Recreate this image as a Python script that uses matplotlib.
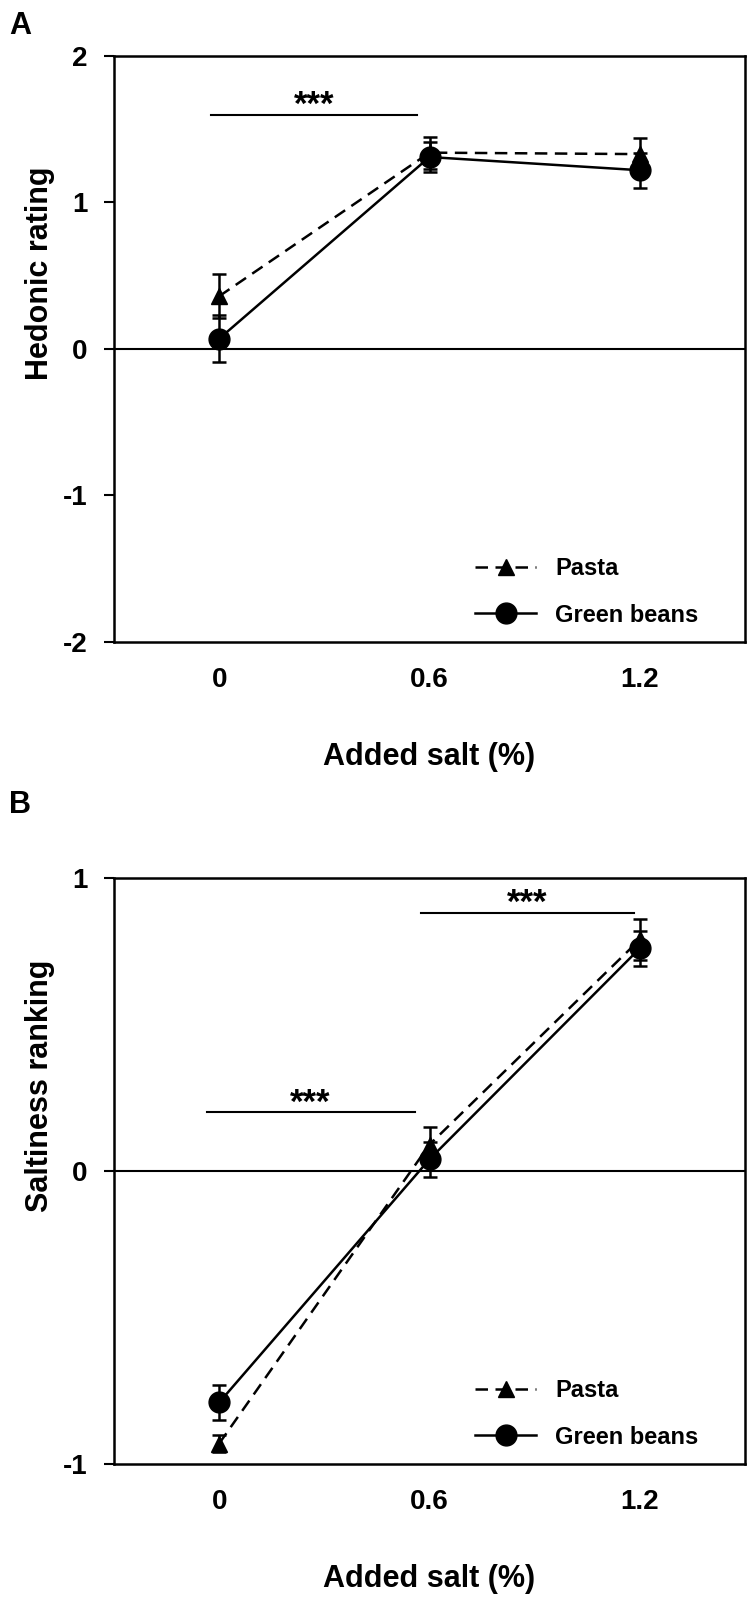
import numpy as np
import matplotlib
matplotlib.use('Agg')
from matplotlib import pyplot as plt

plt.rcParams['font.family'] = ['Liberation Sans', 'DejaVu Sans']
plt.rcParams['font.weight'] = 'bold'

salt = ['0', '0.6', '1.2']

# panel A - hedonic rating
hed_pasta = [0.36, 1.34, 1.33]
hed_pasta_err = [0.15, 0.11, 0.11]
hed_beans = [0.07, 1.31, 1.22]
hed_beans_err = [0.16, 0.10, 0.12]

# panel B - saltiness ranking
sal_pasta = [-0.93, 0.09, 0.79]
sal_pasta_err = [0.03, 0.06, 0.07]
sal_beans = [-0.79, 0.04, 0.76]
sal_beans_err = [0.06, 0.06, 0.06]

fig = plt.figure(figsize=(7.53, 16.03), dpi=100)
axA = fig.add_axes([0.1514, 0.5995, 0.838, 0.3656])
axB = fig.add_axes([0.1514, 0.0867, 0.838, 0.3656])


def panel(ax, pasta, pasta_err, beans, beans_err, ylim, yticks, ylabel, ylab_y, sig):
    x = np.arange(1, len(salt) + 1)
    ax.axhline(0, color='black', lw=1.5, zorder=1)
    ax.errorbar(x, pasta, yerr=pasta_err, fmt='none', ecolor='black',
                capsize=5, capthick=1.8, elinewidth=1.8, zorder=2)
    ax.errorbar(x, beans, yerr=beans_err, fmt='none', ecolor='black',
                capsize=5, capthick=1.8, elinewidth=1.8, zorder=2)
    ax.plot(x, pasta, color='black', ls='--', lw=1.8, dashes=(5, 3),
            marker='^', ms=12, label='Pasta', zorder=3)
    ax.plot(x, beans, color='black', ls='-', lw=1.8, marker='o', ms=15,
            label='Green beans', zorder=4)
    rng = ylim[1] - ylim[0]
    for (x0, x1, y) in sig:
        ax.plot([x0, x1], [y, y], color='black', lw=1.5)
        ax.text((x0 + x1) / 2, y - 0.012 * rng, '***',
                ha='center', va='bottom', fontsize=25, fontweight='bold')
    ax.set_xlim(0.5, 3.5)
    ax.set_ylim(*ylim)
    ax.set_xticks(x)
    ax.set_xticklabels(salt)
    ax.set_yticks(yticks)
    ax.set_yticklabels([str(t) for t in yticks])
    ax.tick_params(axis='x', length=0, pad=18, labelsize=20)
    ax.tick_params(axis='y', length=7, width=1.5, pad=12, labelsize=20)
    for s in ax.spines.values():
        s.set_linewidth(1.8)
    ax.set_xlabel('Added salt (%)', fontsize=22, fontweight='bold', labelpad=35)
    ax.set_ylabel(ylabel, fontsize=22, fontweight='bold')
    ax.yaxis.set_label_coords(-0.093, ylab_y)
    ax.legend(loc='lower right', bbox_to_anchor=(0.96, -0.01), frameon=False,
              handlelength=2.6, labelspacing=1.0, handletextpad=0.8,
              prop={'weight': 'bold', 'size': 17})


panel(axA, hed_pasta, hed_pasta_err, hed_beans, hed_beans_err, (-2, 2),
      [-2, -1, 0, 1, 2], 'Hedonic rating', 0.63, [(0.96, 1.94, 1.6)])
panel(axB, sal_pasta, sal_pasta_err, sal_beans, sal_beans_err, (-1, 1),
      [-1, 0, 1], 'Saltiness ranking', 0.645,
      [(0.94, 1.93, 0.2), (1.96, 2.97, 0.88)])

fig.text(0.012, 0.993, 'A', fontsize=22, fontweight='bold', va='top')
fig.text(0.012, 0.507, 'B', fontsize=22, fontweight='bold', va='top')

fig.savefig('out.png', dpi=100)
